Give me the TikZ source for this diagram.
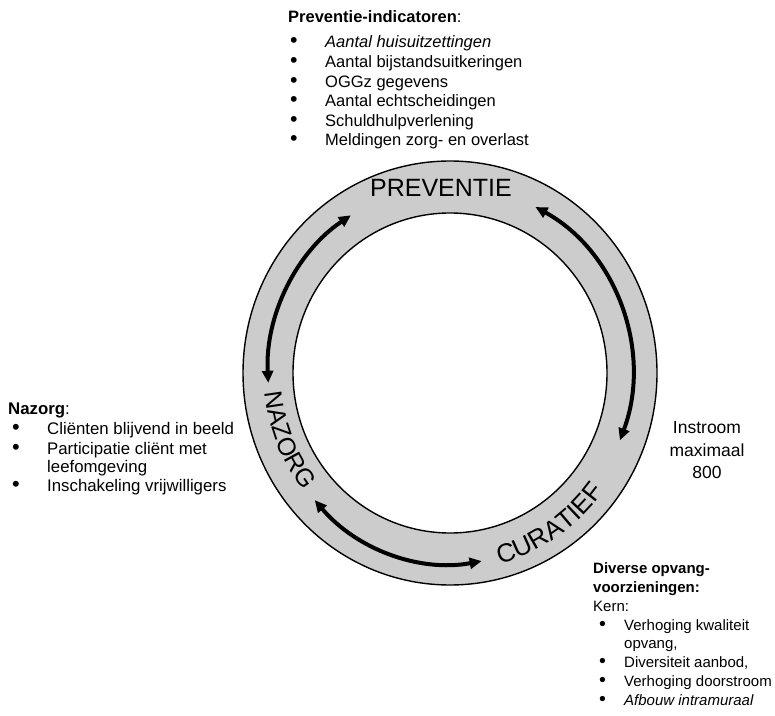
\documentclass[tikz,border=0pt]{standalone}
\usepackage{fontspec}
\setmainfont{Liberation Sans}
\usetikzlibrary{arrows.meta,calc,decorations.text}
\newcommand\topfont{\fontsize{16.5}{19}\selectfont}
\newcommand\leftfont{\fontsize{16.8}{19}\selectfont}
\newcommand\instfont{\fontsize{17.5}{20}\selectfont}
\newcommand\brfont{\fontsize{15}{18}\selectfont}
\newcommand\ringfont{\fontsize{25}{25}\selectfont}
\newcommand\curfont{\fontsize{26}{26}\selectfont}
\newcommand\bul{\scalebox{1.3}{•}}
\begin{document}
\begin{tikzpicture}[x=1pt,y=1pt,
  txt/.style={anchor=base west, inner sep=0pt},
  ctr/.style={anchor=base, inner sep=0pt, font=\instfont},
  ringline/.style={line width=1.4pt},
  cyc/.style={line width=4pt, {Triangle[length=12pt,width=11pt]}-{Triangle[length=12pt,width=11pt]}},
  ringlabel/.style={font=\ringfont, inner sep=0pt}]
\useasboundingbox (0,0) rectangle (775,715);
\coordinate (c) at (450,342);
% ring
\draw[ringline, fill=black!20] (c) ellipse [x radius=207, y radius=212];
\draw[ringline, fill=white] (c) ellipse [x radius=157, y radius=160];
% arrows
\coordinate (l1) at ($(c)+(123:182 and 188)$);
\coordinate (r1) at ($(c)+(62:182 and 188)$);
\coordinate (b1) at ($(c)+(222:182 and 190)$);
\draw[cyc] (l1) arc[start angle=123, end angle=183, x radius=182, y radius=188];
\draw[cyc] (r1) arc[start angle=62, end angle=-21, x radius=182, y radius=188];
\draw[cyc] (b1) arc[start angle=222, end angle=280, x radius=182, y radius=193];
% ring labels
\node[ringlabel] (prev) at (441,527) {PREVENTIE};
\coordinate (nz) at ($(c)+(164:186 and 192)$);
\coordinate (cu) at ($(c)+(-94:192 and 198)$);
\path[decorate, decoration={text along path, text={|\ringfont|NAZORG}, text align=center}]
  (nz) arc[start angle=164, end angle=240, x radius=186, y radius=192];
\path[decorate, decoration={text along path, text={|\curfont|CURATIEF}, text align=center}]
  (cu) arc[start angle=-94, end angle=-18, x radius=192, y radius=198];
% top block
\node[txt, font=\topfont] (ph) at (288,692) {\textbf{Preventie-indicatoren}:};
\foreach \i/\t in {1/{\textit{Aantal huisuitzettingen}},2/{Aantal bijstandsuitkeringen},3/{OGGz gegevens},4/{Aantal echtscheidingen},5/{Schuldhulpverlening},6/{Meldingen zorg- en overlast}}{
  \node[txt, font=\topfont] (pb\i) at (290,{667-(\i-1)*19.6}) {\bul};
  \node[txt, font=\topfont] (pt\i) at (325,{667-(\i-1)*19.6}) {\t};
}
% left block
\node[txt, font=\leftfont] (nh) at (8,300) {\textbf{Nazorg}:};
\node[txt, font=\leftfont] (nb1) at (12,280) {\bul};
\node[txt, font=\leftfont] (nt1) at (47,280) {Cliënten blijvend in beeld};
\node[txt, font=\leftfont] (nb2) at (12,261) {\bul};
\node[txt, font=\leftfont] (nt2) at (47,261) {Participatie cliënt met};
\node[txt, font=\leftfont] (nt3) at (47,243) {leefomgeving};
\node[txt, font=\leftfont] (nb4) at (12,224) {\bul};
\node[txt, font=\leftfont] (nt4) at (47,224) {Inschakeling vrijwilligers};
% right text
\node[ctr] (in1) at (707,281) {Instroom};
\node[ctr] (in2) at (707,259) {maximaal};
\node[ctr] (in3) at (707,237) {800};
% bottom right block
\node[txt, font=\brfont] (dh1) at (593,142) {\textbf{Diverse opvang-}};
\node[txt, font=\brfont] (dh2) at (593,123) {\textbf{voorzieningen:}};
\node[txt, font=\brfont] (dk) at (593,104) {Kern:};
\node[txt, font=\brfont] (db1) at (599,85) {\bul};
\node[txt, font=\brfont] (dt1) at (624,85) {Verhoging kwaliteit};
\node[txt, font=\brfont] (dt1b) at (624,67) {opvang,};
\node[txt, font=\brfont] (db2) at (599,48) {\bul};
\node[txt, font=\brfont] (dt2) at (624,48) {Diversiteit aanbod,};
\node[txt, font=\brfont] (db3) at (599,29) {\bul};
\node[txt, font=\brfont] (dt3) at (624,29) {Verhoging doorstroom};
\node[txt, font=\brfont] (db4) at (599,10) {\bul};
\node[txt, font=\brfont] (dt4) at (624,10) {\textit{Afbouw intramuraal}};
\end{tikzpicture}
\end{document}
